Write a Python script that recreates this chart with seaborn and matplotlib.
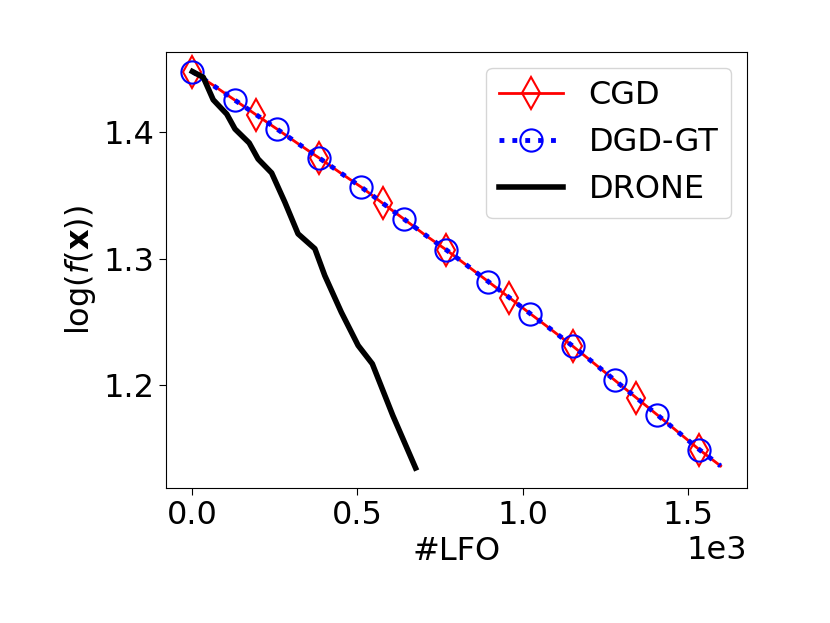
import matplotlib
matplotlib.use("Agg")
import seaborn as sns
from matplotlib import pyplot as plt

# LFO counts (shared grid for CGD / DGD-GT)
lfo = [0, 64, 128, 192, 256, 320, 384, 448, 512, 576, 640, 704, 768,
       832, 896, 960, 1024, 1088, 1152, 1216, 1280, 1344, 1408, 1472, 1536, 1600]
cgd = [1.4480, 1.4370, 1.4255, 1.4140, 1.4026, 1.3910, 1.3797, 1.3680, 1.3566,
       1.3440, 1.3316, 1.3190, 1.3073, 1.2947, 1.2821, 1.2694, 1.2566, 1.2439,
       1.2311, 1.2176, 1.2040, 1.1904, 1.1768, 1.1630, 1.1492, 1.1364]
dgd_gt = [1.4480, 1.4368, 1.4255, 1.4141, 1.4026, 1.3911, 1.3797, 1.3681, 1.3566,
          1.3441, 1.3316, 1.3192, 1.3073, 1.2948, 1.2821, 1.2694, 1.2566, 1.2440,
          1.2311, 1.2177, 1.2040, 1.1905, 1.1768, 1.1631, 1.1492, 1.1364]

# DRONE
drone_lfo = [0, 33, 63, 104, 129, 172, 199, 240, 280, 320, 371, 401,
             451, 502, 545, 607, 676]
drone = [1.4480, 1.4434, 1.4257, 1.4144, 1.4026, 1.3916, 1.3789, 1.3679, 1.3448,
         1.3198, 1.3080, 1.2868, 1.2579, 1.2316, 1.2171, 1.1763, 1.1348]

FS = 23

fig, ax = plt.subplots(figsize=(8.3, 6.23), dpi=100)
fig.subplots_adjust(left=0.2, right=0.9, top=0.917, bottom=0.217)

sns.lineplot(x=lfo, y=cgd, ax=ax, color="red", linewidth=2, marker="d",
             markersize=16, markerfacecolor="none", markeredgecolor="red",
             markeredgewidth=1.5, markevery=3, label="CGD")
sns.lineplot(x=lfo, y=dgd_gt, ax=ax, color="blue", linewidth=3.5, linestyle=":",
             marker="o", markersize=16, markerfacecolor="none", markeredgecolor="blue",
             markeredgewidth=1.5, markevery=2, label="DGD-GT")
sns.lineplot(x=drone_lfo, y=drone, ax=ax, color="black", linewidth=4, label="DRONE")

ax.set_yticks([1.2, 1.3, 1.4])
ax.ticklabel_format(style="sci", axis="x", scilimits=(3, 3))
ax.xaxis.get_offset_text().set_fontsize(FS)
ax.tick_params(labelsize=FS, length=5)
ax.set_xlabel("#LFO", fontsize=FS)
ax.set_ylabel(r"$\log(f(\mathbf{x}))$", fontsize=FS)
ax.legend(loc="upper right", fontsize=FS)

plt.savefig("out.png", dpi=100)
